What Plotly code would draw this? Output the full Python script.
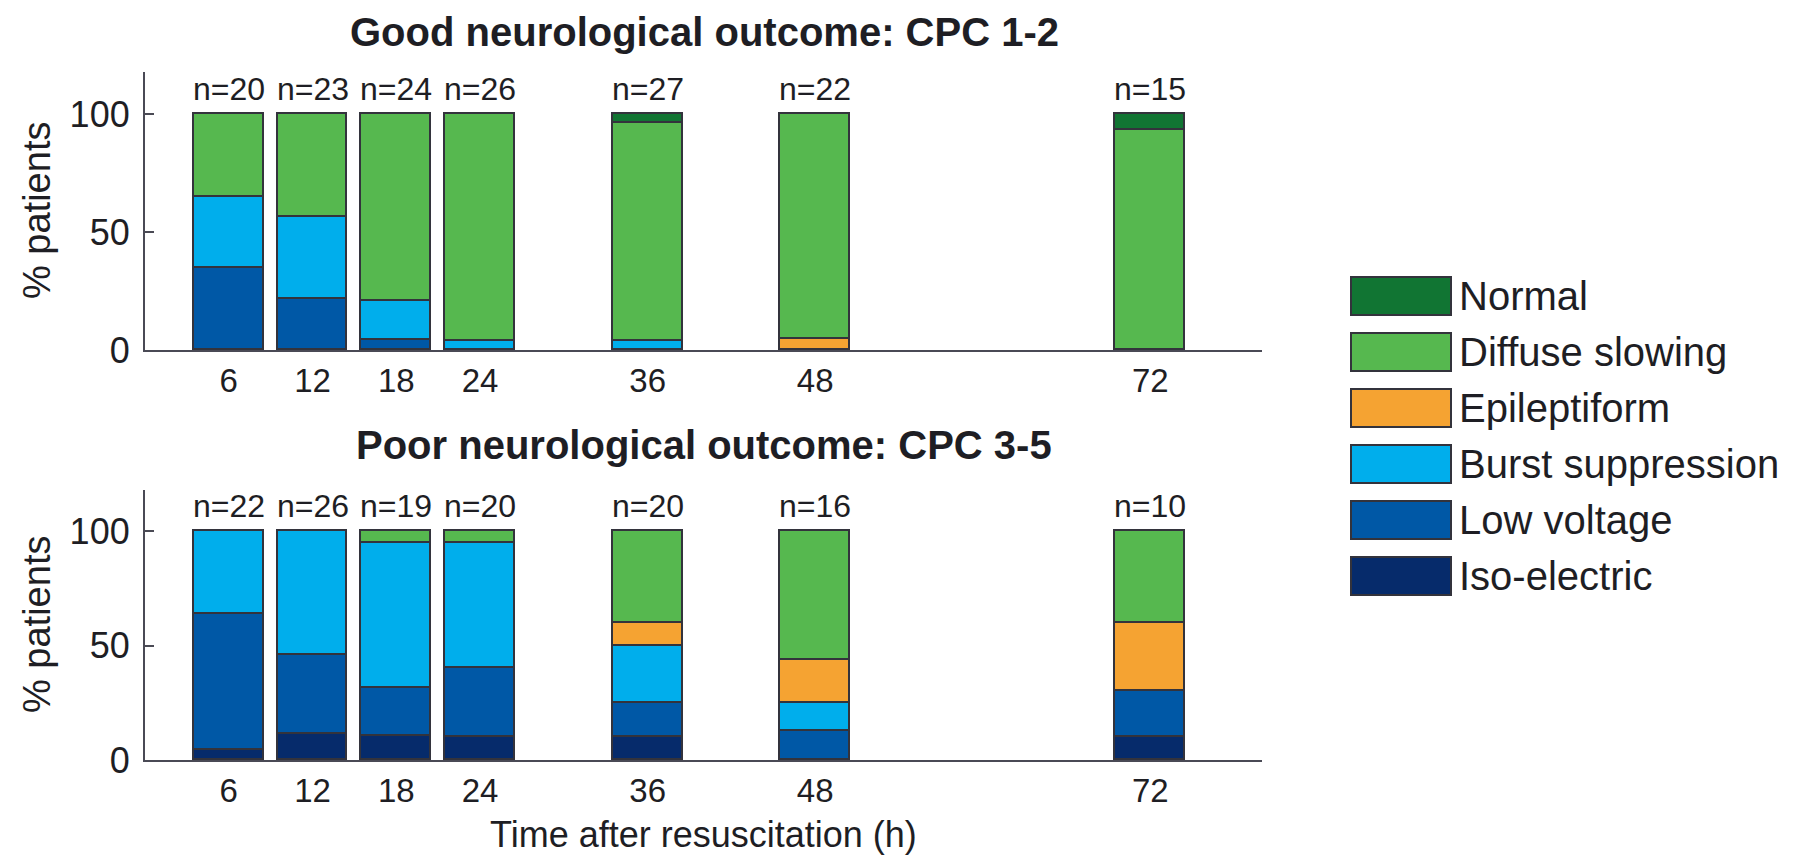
import plotly.graph_objects as go

# ---------------- data ----------------
times = [6, 12, 18, 24, 36, 48, 72]
time_labels = ["6", "12", "18", "24", "36", "48", "72"]
categories = ["Iso-electric", "Low voltage", "Burst suppression", "Epileptiform", "Diffuse slowing", "Normal"]
colors = ["#062b6b", "#0058a6", "#00aeec", "#f5a332", "#56b84f", "#117533"]

good_n = [20, 23, 24, 26, 27, 22, 15]
good_iso = [0, 0, 0, 0, 0, 0, 0]
good_low = [35.0, 21.7, 4.2, 0, 0, 0, 0]
good_burst = [30.0, 34.8, 16.7, 3.8, 3.7, 0, 0]
good_epi = [0, 0, 0, 0, 0, 4.5, 0]
good_diffuse = [35.0, 43.5, 79.2, 96.2, 92.6, 95.5, 93.3]
good_normal = [0, 0, 0, 0, 3.7, 0, 6.7]

poor_n = [22, 26, 19, 20, 20, 16, 10]
poor_iso = [4.5, 11.5, 10.5, 10.0, 10.0, 0, 10.0]
poor_low = [59.1, 34.6, 21.1, 30.0, 15.0, 12.5, 20.0]
poor_burst = [36.4, 53.8, 63.2, 55.0, 25.0, 12.5, 0]
poor_epi = [0, 0, 0, 0, 10.0, 18.75, 30.0]
poor_diffuse = [0, 0, 5.3, 5.0, 40.0, 56.25, 40.0]
poor_normal = [0, 0, 0, 0, 0, 0, 0]

y_ticks = [0, 50, 100]

# ---------------- styling ----------------
FONT = "Liberation Sans, Arial, Helvetica, sans-serif"
TXT = "#1e1e24"
AX = "#4a4a55"
OFF = 8                      # default page margin around the plot div
W, H = 1794 - 2 * OFF, 866 - 2 * OFF

def px_x(v):                 # page pixel -> paper fraction
    return (v - OFF) / W

def px_y(v):
    return (H - (v - OFF)) / H

fig = go.Figure()

panels = [
    ("x", "y", good_n, [good_iso, good_low, good_burst, good_epi, good_diffuse, good_normal]),
    ("x2", "y2", poor_n, [poor_iso, poor_low, poor_burst, poor_epi, poor_diffuse, poor_normal]),
]

for xa, ya, ns, series in panels:
    for name, col, vals in zip(categories, colors, series):
        fig.add_trace(go.Bar(
            x=times, y=[v if v else None for v in vals], name=name,
            marker=dict(color=col, line=dict(color="#33333c", width=1.6)),
            width=5, xaxis=xa, yaxis=ya, showlegend=False,
        ))
    for t, n in zip(times, ns):
        fig.add_annotation(x=t, y=100, xref=xa, yref=ya, text=f"n={n}",
                           showarrow=False, xanchor="center", yanchor="bottom", yshift=5,
                           font=dict(family=FONT, size=32, color=TXT))

axis_common = dict(showline=True, linecolor=AX, linewidth=2.2, showgrid=False, zeroline=False,
                   automargin=False)
xfont = dict(family=FONT, size=33, color=TXT)
yfont = dict(family=FONT, size=36, color=TXT)
xdom = [px_x(145), px_x(1262)]
fig.update_layout(
    template="none",
    width=W, height=H, margin=dict(l=0, r=0, t=0, b=0, pad=0),
    plot_bgcolor="white", paper_bgcolor="white", barmode="stack", bargap=0,
    showlegend=False,
    xaxis=dict(domain=xdom, range=[0, 80], tickvals=times, ticktext=time_labels, ticks="",
               anchor="y", ticklabelstandoff=0, tickfont=xfont, **axis_common),
    yaxis=dict(domain=[px_y(350), px_y(72)], range=[0, 118], tickvals=y_ticks, ticks="inside",
               ticklen=9, tickwidth=2, tickcolor=AX, anchor="x", ticklabelstandoff=6,
               tickfont=yfont, **axis_common),
    xaxis2=dict(domain=xdom, range=[0, 80], tickvals=times, ticktext=time_labels, ticks="",
                anchor="y2", ticklabelstandoff=0, tickfont=xfont, **axis_common),
    yaxis2=dict(domain=[px_y(760), px_y(490)], range=[0, 118], tickvals=y_ticks, ticks="inside",
                ticklen=9, tickwidth=2, tickcolor=AX, anchor="x2", ticklabelstandoff=6,
                tickfont=yfont, **axis_common),
)

def label(xp, yp, text, size=38, angle=0, xanchor="center"):
    fig.add_annotation(x=px_x(xp), y=px_y(yp), xref="paper", yref="paper", showarrow=False,
                       xanchor=xanchor, yanchor="middle", text=text, textangle=angle,
                       font=dict(family=FONT, size=size, color=TXT))

# titles
label(704, 32, "<b>Good neurological outcome: CPC 1-2</b>", size=40)
label(704, 445, "<b>Poor neurological outcome: CPC 3-5</b>", size=40)
label(703, 834, "Time after resuscitation (h)", size=36)
for yc in (211, 625):
    label(37, yc, "% patients", angle=-90)

# manual legend (top to bottom: Normal ... Iso-electric)
for i, (name, col) in enumerate(zip(categories[::-1], colors[::-1])):
    yc = 296 + 56 * i
    fig.add_shape(type="rect", xref="paper", yref="paper",
                  x0=px_x(1351), x1=px_x(1451), y0=px_y(yc + 19), y1=px_y(yc - 19),
                  fillcolor=col, line=dict(color="#33333c", width=2))
    label(1457, yc, name, size=40, xanchor="left")

fig.write_html("out.html")
